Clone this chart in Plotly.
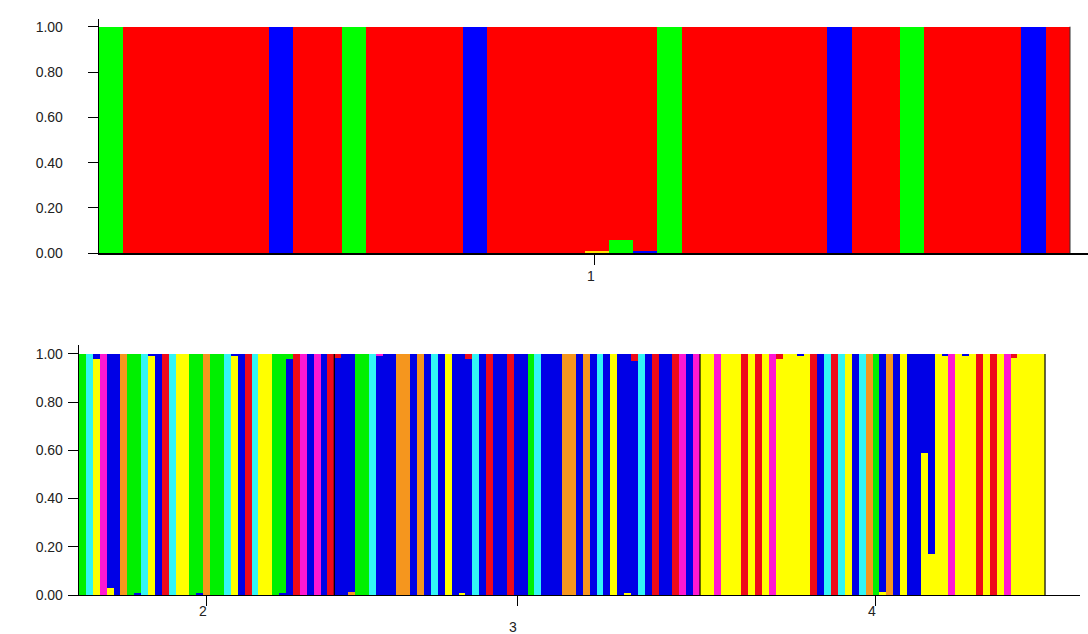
import plotly.graph_objects as go

# ---------------- data ----------------
# cluster letters: R red, G green, B blue, Y yellow, M magenta, C cyan, O orange
CLUSTER_ORDER = ["Y", "O", "C", "B", "G", "M", "R"]          # bottom -> top in each bar
TOP_COLORS = {"R": "#FF0000", "G": "#00FF00", "B": "#0000FF", "Y": "#FFE000",
              "O": "#F39A1C", "C": "#33FFFF", "M": "#FF18D2"}
BOTTOM_COLORS = {"R": "#EE0A1A", "G": "#00F000", "B": "#0000E6", "Y": "#FFFF00",
                 "O": "#F5961E", "C": "#33F5F5", "M": "#FF18D2"}

# population 1 (upper panel): dominant cluster of each individual
TOP_ASSIGN = list("GRRRRRRBRRGRRRRBRRRRRRRGRRRRRRBRRGRRRRBR")
# (individual, cluster, membership) for admixed individuals
TOP_ADMIX = [(20, "Y", 0.012), (21, "G", 0.06), (22, "B", 0.012)]
TOP_GROUP_LABELS = ["1"]
TOP_GROUP_SIZES = [40]
TOP_LABEL_POS = [20.43]

# populations 2, 3, 4 (lower panel)
BOTTOM_ASSIGN = list(
    "GCYMBBOGGCYBRCYYGGOGGCYBRCYYGGBRMBMBR"                  # pop 2
    "BBBGGCBBBOOBOBCBYBBBCBRBBRBBGCBBBOOBOBCBYBBBCBRBBRMBM"  # pop 3
    "YYMYYYRYRYMYYYYYRBCRCYBCOGBOBYBBYBYYMYYYRYRYMYYYYY"     # pop 4
)
BOTTOM_ADMIX = [
    (2, "B", 0.02), (4, "Y", 0.03), (8, "B", 0.01), (10, "B", 0.01), (17, "B", 0.01),
    (22, "B", 0.01), (29, "B", 0.01), (30, "G", 0.02), (37, "R", 0.015), (39, "O", 0.012),
    (43, "M", 0.01), (55, "Y", 0.01), (56, "R", 0.02), (79, "Y", 0.01), (80, "R", 0.03),
    (101, "R", 0.02), (104, "B", 0.008), (116, "Y", 0.012), (122, "B", 0.41),
    (123, "Y", 0.17), (125, "B", 0.008), (128, "B", 0.008), (135, "R", 0.015),
]
BOTTOM_GROUP_LABELS = ["2", "3", "4"]
BOTTOM_GROUP_SIZES = [37, 53, 50]
BOTTOM_LABEL_POS = [18.5, 63.5, 115.5]

Y_TICKS = [0.0, 0.2, 0.4, 0.6, 0.8, 1.0]


def q_matrix(assign, admix):
    q = {k: [0.0] * len(assign) for k in CLUSTER_ORDER}
    for i, k in enumerate(assign):
        q[k][i] = 1.0
    for i, k, v in admix:
        q[assign[i]][i] -= v
        q[k][i] += v
    return q


fig = go.Figure()

for panel, (assign, admix, colors, xa, ya) in enumerate([
        (TOP_ASSIGN, TOP_ADMIX, TOP_COLORS, "x", "y"),
        (BOTTOM_ASSIGN, BOTTOM_ADMIX, BOTTOM_COLORS, "x2", "y2")]):
    q = q_matrix(assign, admix)
    xs = [i + 0.5 for i in range(len(assign))]
    for k in CLUSTER_ORDER:
        fig.add_trace(go.Bar(
            x=xs, y=q[k], width=1.0, marker=dict(color=colors[k], line=dict(width=0)),
            xaxis=xa, yaxis=ya, showlegend=False, hoverinfo="skip"))

# population separators
shapes = []
edge = 0
for s in BOTTOM_GROUP_SIZES:
    edge += s
    shapes.append(dict(type="line", xref="x2", yref="y2", x0=edge, x1=edge, y0=0, y1=1,
                       line=dict(color="black", width=1.2)))
edge = 0
for s in TOP_GROUP_SIZES:
    edge += s
    shapes.append(dict(type="line", xref="x", yref="y", x0=edge, x1=edge, y0=0, y1=1,
                       line=dict(color="#333333", width=1)))

FONT = dict(size=14, color="#222222", family="Liberation Sans")
annotations = []
for lab, pos in zip(TOP_GROUP_LABELS, TOP_LABEL_POS):
    annotations.append(dict(text=lab, x=pos, xref="x", y=0, yref="y domain",
                            yanchor="top", yshift=-13, xshift=-4, showarrow=False,
                            font=FONT))
for j, (lab, pos) in enumerate(zip(BOTTOM_GROUP_LABELS, BOTTOM_LABEL_POS)):
    annotations.append(dict(text=lab, x=pos, xref="x2", y=0, yref="y2 domain",
                            yanchor="top", yshift=-6 if j != 1 else -22, xshift=-4,
                            showarrow=False, font=FONT))

W, H = 1088, 634


def fx(px):
    return px / W


def fy(py):
    return 1 - py / H


yax_common = dict(tickvals=Y_TICKS, ticktext=[f"{v:.2f}" for v in Y_TICKS],
                  ticks="outside", ticklen=10, tickcolor="black", showline=True,
                  linecolor="black", linewidth=1.3, showgrid=False, zeroline=False,
                  automargin=False, fixedrange=True, tickfont=FONT)
xax_common = dict(ticks="outside", ticklen=10, tickcolor="black", showline=True,
                  linecolor="black", linewidth=1.3, showgrid=False, zeroline=False,
                  showticklabels=False, automargin=False, fixedrange=True)

fig.update_layout(
    width=W, height=H, margin=dict(l=0, r=0, t=0, b=0),
    paper_bgcolor="white", plot_bgcolor="white",
    barmode="stack", bargap=0,
    xaxis=dict(domain=[fx(99), 1.0], range=[0, (1088 - 99) / 24.275], anchor="y",
               tickvals=TOP_LABEL_POS, **xax_common),
    yaxis=dict(domain=[fy(253.3), fy(19)], range=[0, 1.034], anchor="x",
               ticklabelstandoff=22, **yax_common),
    xaxis2=dict(domain=[fx(79), fx(1080)], range=[0, 145.07], anchor="y2",
                tickvals=BOTTOM_LABEL_POS, **xax_common),
    yaxis2=dict(domain=[fy(595), fy(345)], range=[0, 1.037], anchor="x2",
                ticklabelstandoff=2, **yax_common),
    shapes=shapes, annotations=annotations,
)

# remove the browser's default 8px page margin so the figure fills the window
fig.write_html("out.html",
               config={"displayModeBar": False, "staticPlot": True},
               post_script="document.body.style.margin='0';"
                           "document.body.style.overflow='hidden';")
